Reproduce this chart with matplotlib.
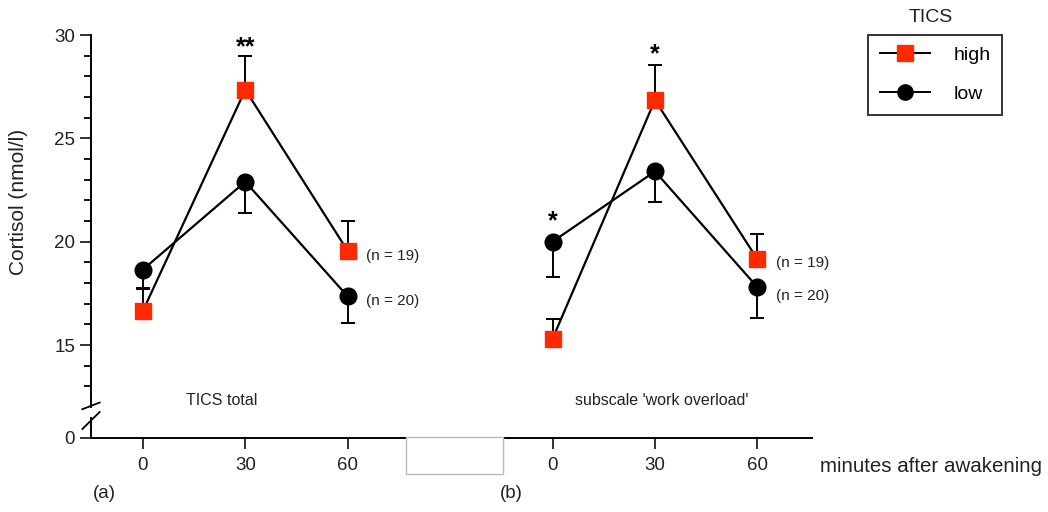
import matplotlib
matplotlib.use("Agg")
import matplotlib.pyplot as plt
from matplotlib.patches import Rectangle
import numpy as np

plt.rcParams['font.family'] = ['Liberation Sans', 'DejaVu Sans']

# time points (minutes after awakening); panel b is drawn shifted to the right
minutes = [0, 30, 60]
offset_b = 120

# panel (a): TICS total
a_high = [16.65, 27.35, 19.55]
a_high_err = [1.1, 1.65, 1.45]
a_low = [18.65, 22.9, 17.35]
a_low_err = [0.95, 1.5, 1.28]

# panel (b): subscale 'work overload'
b_high = [15.3, 26.85, 19.15]
b_high_err = [0.97, 1.72, 1.21]
b_low = [20.0, 23.4, 17.8]
b_low_err = [1.72, 1.5, 1.5]

red = '#ff2a00'

fig = plt.figure(figsize=(10.48, 5.12), dpi=100)
ax = fig.add_axes([91/1048, 1-407/512, (812-91)/1048, (407-35)/512])
ax0 = fig.add_axes([91/1048, 1-438/512, (812-91)/1048, (438-418)/512], sharex=ax)

def panel(xs, high, high_err, low, low_err):
    # low group: error bar drawn downward only
    ax.errorbar(xs, low, yerr=[low_err, np.zeros(3)], color='black', lw=1.6,
                marker='o', ms=12, mfc='black', mec='black', elinewidth=1.4,
                capsize=5, capthick=1.4, zorder=3)
    # high group: error bar drawn upward only
    ax.errorbar(xs, high, yerr=[np.zeros(3), high_err], color='black', lw=1.6,
                marker='s', ms=12, mfc=red, mec=red, elinewidth=1.4,
                capsize=5, capthick=1.4, zorder=4)

xa = np.array(minutes)
xb = np.array(minutes) + offset_b
panel(xa, a_high, a_high_err, a_low, a_low_err)
panel(xb, b_high, b_high_err, b_low, b_low_err)

ax.set_xlim(-15.2, 196)
ax.set_ylim(12, 30)
ax0.set_ylim(0, 1)

for s in ['top', 'right', 'bottom']:
    ax.spines[s].set_visible(False)
for s in ['top', 'right']:
    ax0.spines[s].set_visible(False)
for a in (ax, ax0):
    a.spines['left'].set_linewidth(1.4)
ax0.spines['bottom'].set_linewidth(1.4)

ax.set_yticks([15, 20, 25, 30])
ax.set_yticks(np.arange(13, 30, 1), minor=True)
ax.tick_params(axis='y', which='major', length=8, width=1.3, labelsize=13.5, colors='#222222')
ax.tick_params(axis='y', which='minor', length=5, width=1.3)
ax.tick_params(axis='x', bottom=False, labelbottom=False)

ax0.set_yticks([0])
ax0.tick_params(axis='y', length=8, width=1.3, labelsize=13.5, colors='#222222')
ax0.set_xticks(list(xa) + list(xb))
ax0.set_xticklabels([str(m) for m in minutes] * 2)
ax0.tick_params(axis='x', length=8, width=1.3, labelsize=13.5, pad=6, colors='#222222')

# axis break marks
kw = dict(color='black', lw=1.3, clip_on=False)
ax.plot([-0.012, 0.012], [-0.006, 0.012], transform=ax.transAxes, **kw)
ax0.plot([-0.012, 0.012], [0.45, 1.3], transform=ax0.transAxes, **kw)

# gap box on the x axis
ax0.add_patch(Rectangle((77, -1.8), 28.6, 1.85, facecolor='white', edgecolor='#bbbbbb',
                        lw=1.0, clip_on=False, zorder=5))

ax.set_ylabel('Cortisol (nmol/l)', fontsize=15, color='#222222', labelpad=10)
ax.yaxis.set_label_coords(-0.088, 0.55)

# significance stars
ax.text(30, 29.4, '**', ha='center', va='center', fontsize=18, fontweight='bold')
ax.text(offset_b + 30, 29.05, '*', ha='center', va='center', fontsize=18, fontweight='bold')
ax.text(offset_b, 21.0, '*', ha='center', va='center', fontsize=18, fontweight='bold')

# sample sizes
ax.text(65.5, 19.3, '(n = 19)', fontsize=11, va='center', color='#222222')
ax.text(65.5, 17.15, '(n = 20)', fontsize=11, va='center', color='#222222')
ax.text(offset_b + 65.5, 18.95, '(n = 19)', fontsize=11, va='center', color='#222222')
ax.text(offset_b + 65.5, 17.35, '(n = 20)', fontsize=11, va='center', color='#222222')

# panel titles
ax.text(23, 12.3, 'TICS total', fontsize=11.5, ha='center', va='center', color='#222222')
ax.text(offset_b + 32, 12.3, "subscale 'work overload'", fontsize=11.5, ha='center',
        va='center', color='#222222')

fig.text(820/1048, 1-466/512, 'minutes after awakening', fontsize=14.8, va='center', color='#222222')
fig.text(93/1048, 1-494/512, '(a)', fontsize=13.5, va='center', color='#222222')
fig.text(500/1048, 1-494/512, '(b)', fontsize=13.5, va='center', color='#222222')

# legend (title sits above the frame)
fig.text(931/1048, 1-17/512, 'TICS', fontsize=14, ha='center', va='center', color='#222222')
hh = plt.Line2D([], [], color='black', lw=1.4, marker='s', ms=11, mfc=red, mec=red)
hl = plt.Line2D([], [], color='black', lw=1.4, marker='o', ms=11, mfc='black', mec='black')
leg = fig.legend([hh, hl], ['high', 'low'], loc='upper left',
                 bbox_to_anchor=(868/1048, 1-35/512), fontsize=14,
                 frameon=True, fancybox=False, edgecolor='black', handlelength=2.6,
                 handletextpad=1.2, labelspacing=1.1, borderpad=0.6, borderaxespad=0)
leg.get_frame().set_linewidth(1.4)

fig.savefig('out.png', dpi=100)
